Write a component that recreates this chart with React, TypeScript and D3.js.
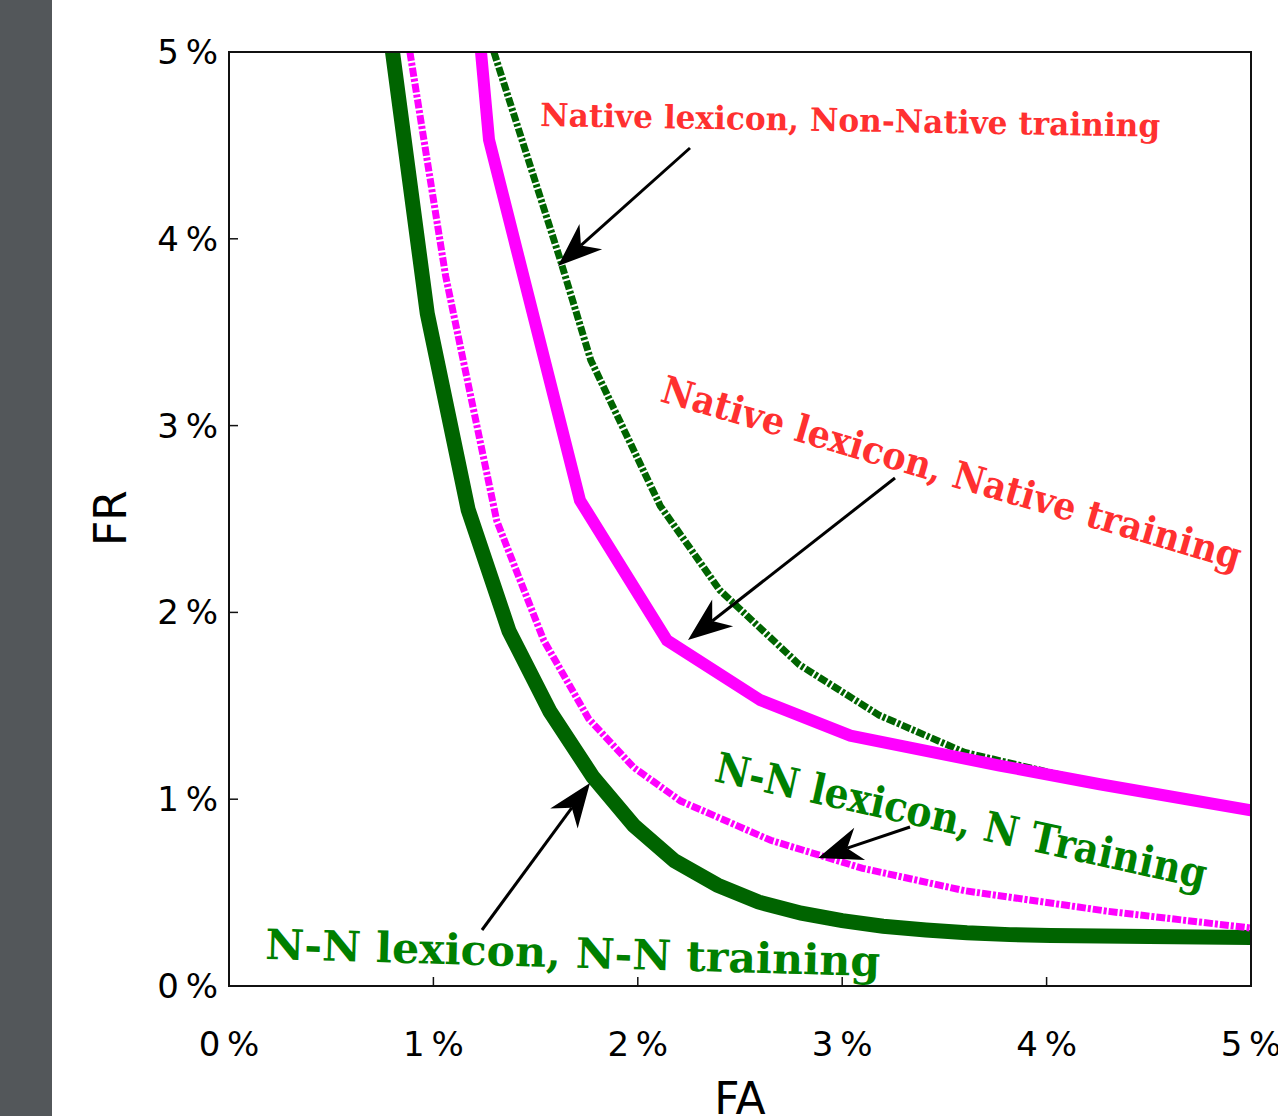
import React from 'react'
import * as d3 from 'd3'

// FA / FR in percent
const nnSolidFA = [0.8, 0.97, 1.17, 1.37, 1.57, 1.78, 1.98, 2.18, 2.39, 2.59, 2.8, 3.0, 3.2, 3.41, 3.61, 3.82, 4.02, 4.5, 5.0]
const nnSolidFR = [5.0, 3.6, 2.55, 1.9, 1.47, 1.12, 0.86, 0.67, 0.54, 0.45, 0.39, 0.35, 0.32, 0.3, 0.285, 0.275, 0.27, 0.265, 0.26]

const nnDashFA = [0.885, 1.06, 1.31, 1.54, 1.76, 1.98, 2.21, 2.65, 3.1, 3.6, 4.3, 5.0]
const nnDashFR = [5.0, 3.8, 2.49, 1.85, 1.43, 1.17, 0.99, 0.78, 0.63, 0.51, 0.4, 0.31]

const natSolidFA = [1.233, 1.272, 1.717, 2.143, 2.6, 3.04, 3.77, 4.26, 5.0]
const natSolidFR = [5.0, 4.53, 2.6, 1.85, 1.53, 1.34, 1.18, 1.08, 0.94]

const natDashFA = [1.296, 1.62, 1.77, 2.11, 2.4, 2.79, 3.18, 3.6, 4.26, 5.0]
const natDashFR = [5.0, 3.89, 3.35, 2.57, 2.12, 1.72, 1.45, 1.25, 1.08, 0.94]

const xTicks = [0, 1, 2, 3, 4, 5]
const yTicks = [0, 1, 2, 3, 4, 5]

const MAGENTA = '#ff00ff'
const DGREEN = '#006400'
const RED = '#ff3030'
const GREEN = '#008000'

const W = 1278
const H = 1116
const M = { left: 229, right: 1251, top: 52, bottom: 986 }

const x = d3.scaleLinear().domain([0, 5]).range([M.left, M.right])
const y = d3.scaleLinear().domain([0, 5]).range([M.bottom, M.top])

const pts = (fa: number[], fr: number[]) => fa.map((v, i) => [v, fr[i]] as [number, number])
const line = d3.line<[number, number]>().x((d) => x(d[0])).y((d) => y(d[1]))

const annotations = [
  { text: 'Native lexicon, Non-Native training', x: 540, y: 126, angle: 1.0, size: 32, len: 620, color: RED },
  { text: 'Native lexicon, Native training', x: 659, y: 401, angle: 16.3, size: 38, len: 602, color: RED },
  { text: 'N-N lexicon, N Training', x: 713, y: 781, angle: 12.4, size: 42, len: 502, color: GREEN },
  { text: 'N-N lexicon, N-N training', x: 265, y: 959, angle: 1.6, size: 42, len: 615, color: GREEN },
]

const arrows = [
  { from: [690, 148], to: [558, 266] },
  { from: [895, 478], to: [688, 640] },
  { from: [910, 827], to: [818, 858] },
  { from: [482, 930], to: [590, 783] },
]

function Arrow({ from, to }: { from: number[]; to: number[] }) {
  const ang = Math.atan2(to[1] - from[1], to[0] - from[0])
  const len = 44
  const wid = 17
  const ux = Math.cos(ang), uy = Math.sin(ang)
  const px = -uy, py = ux
  const bx = to[0] - ux * len, by = to[1] - uy * len
  const nx = to[0] - ux * len * 0.7, ny = to[1] - uy * len * 0.7
  const head = [
    [to[0], to[1]],
    [bx + px * wid, by + py * wid],
    [nx, ny],
    [bx - px * wid, by - py * wid],
  ]
  return (
    <g>
      <line x1={from[0]} y1={from[1]} x2={nx} y2={ny} stroke="#000" strokeWidth={3} />
      <polygon points={head.map((p) => p.join(',')).join(' ')} fill="#000" />
    </g>
  )
}

export default function App() {
  return (
    <svg width={W} height={H} style={{ position: 'absolute', left: 0, top: 0, background: '#fff' }}>
      <rect x={0} y={0} width={52} height={H} fill="#53575a" />
      <defs>
        <clipPath id="plot">
          <rect x={M.left} y={M.top} width={M.right - M.left} height={M.bottom - M.top} />
        </clipPath>
      </defs>
      <g clipPath="url(#plot)" fill="none" strokeLinejoin="miter">
        <path d={line(pts(nnSolidFA, nnSolidFR)) ?? ''} stroke={DGREEN} strokeWidth={15} />
        <path d={line(pts(nnDashFA, nnDashFR)) ?? ''} stroke={MAGENTA} strokeWidth={7} strokeDasharray="9,2,3,2" />
        <path d={line(pts(natDashFA, natDashFR)) ?? ''} stroke={DGREEN} strokeWidth={7} strokeDasharray="9,2,3,2" />
        <path d={line(pts(natSolidFA, natSolidFR)) ?? ''} stroke={MAGENTA} strokeWidth={12} />
      </g>
      {/* frame + ticks */}
      <rect x={M.left} y={M.top} width={M.right - M.left} height={M.bottom - M.top} fill="none" stroke="#111" strokeWidth={2} />
      {xTicks.slice(1, -1).map((t) => (
        <line key={'xt' + t} x1={x(t)} x2={x(t)} y1={M.bottom} y2={M.bottom - 9} stroke="#111" strokeWidth={1.5} />
      ))}
      {yTicks.slice(1, -1).map((t) => (
        <line key={'yt' + t} x1={M.left} x2={M.left + 9} y1={y(t)} y2={y(t)} stroke="#111" strokeWidth={1.5} />
      ))}
      <g fontFamily="DejaVu Sans" fontSize={34} fill="#000">
        {xTicks.map((t) => (
          <text key={'xl' + t} x={x(t)} y={1056} textAnchor="middle">{`${t}\u2009%`}</text>
        ))}
        {yTicks.map((t) => (
          <text key={'yl' + t} x={218} y={y(t) + 12} textAnchor="end">{`${t}\u2009%`}</text>
        ))}
        <text x={740} y={1114} textAnchor="middle" fontSize={44}>FA</text>
        <text transform="translate(126,518) rotate(-90)" textAnchor="middle" fontSize={44}>FR</text>
      </g>
      <g fontFamily="DejaVu Serif" fontWeight="bold">
        {annotations.map((a) => (
          <text
            key={a.text}
            transform={`translate(${a.x},${a.y}) rotate(${a.angle})`}
            fontSize={a.size}
            fill={a.color}
            textLength={a.len}
            lengthAdjust="spacingAndGlyphs"
          >
            {a.text}
          </text>
        ))}
      </g>
      {arrows.map((a, i) => (
        <Arrow key={i} from={a.from} to={a.to} />
      ))}
    </svg>
  )
}
